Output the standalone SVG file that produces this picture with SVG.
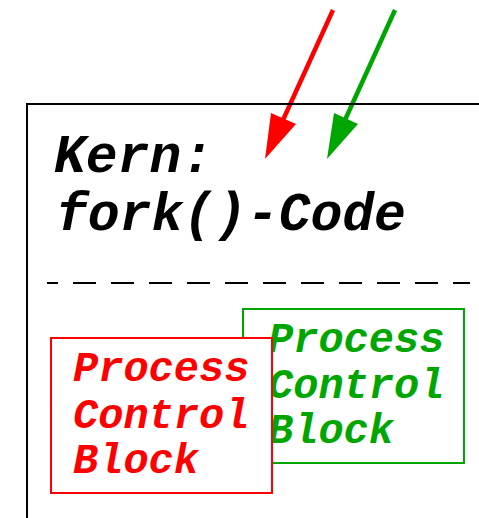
<svg xmlns="http://www.w3.org/2000/svg" width="479" height="518" viewBox="0 0 479 518">
<style>
text{font-family:"Liberation Mono","Courier New",monospace;font-weight:bold;font-style:italic}
.k{font-size:53px;fill:#000}
.p{font-size:42px}
.r{fill:#ff0000}
.g{fill:#00a600}
</style>
<rect width="479" height="518" fill="#fff"/>
<g id="connectors">
<line x1="333" y1="10" x2="283" y2="120" stroke="#ff0000" stroke-width="4.5"/>
<polygon points="271,113 296,124 265,159" fill="#ff0000"/>
<line x1="395" y1="10" x2="345" y2="120" stroke="#00a600" stroke-width="4.5"/>
<polygon points="334,113 358,124 327,159" fill="#00a600"/>
</g>
<g id="kern">
<path d="M27,518 V104 H479" fill="none" stroke="#000" stroke-width="2"/>
<text class="k" x="54" y="172">Kern:</text>
<text class="k" x="56" y="230">fork()-Code</text>
<line x1="47" y1="283" x2="470" y2="283" stroke="#000" stroke-width="2" stroke-dasharray="23 15" stroke-dashoffset="12"/>
</g>
<g id="pcb-green">
<rect x="243" y="309" width="221" height="154" fill="#fff" stroke="#00a600" stroke-width="2"/>
<text class="p g" x="268" y="352">Process</text>
<text class="p g" x="268" y="398">Control</text>
<text class="p g" x="268" y="443">Block</text>
</g>
<g id="pcb-red">
<rect x="51" y="338" width="221" height="155" fill="#fff" stroke="#ff0000" stroke-width="2"/>
<text class="p r" x="73" y="381">Process</text>
<text class="p r" x="73" y="428">Control</text>
<text class="p r" x="73" y="473">Block</text>
</g>
</svg>
